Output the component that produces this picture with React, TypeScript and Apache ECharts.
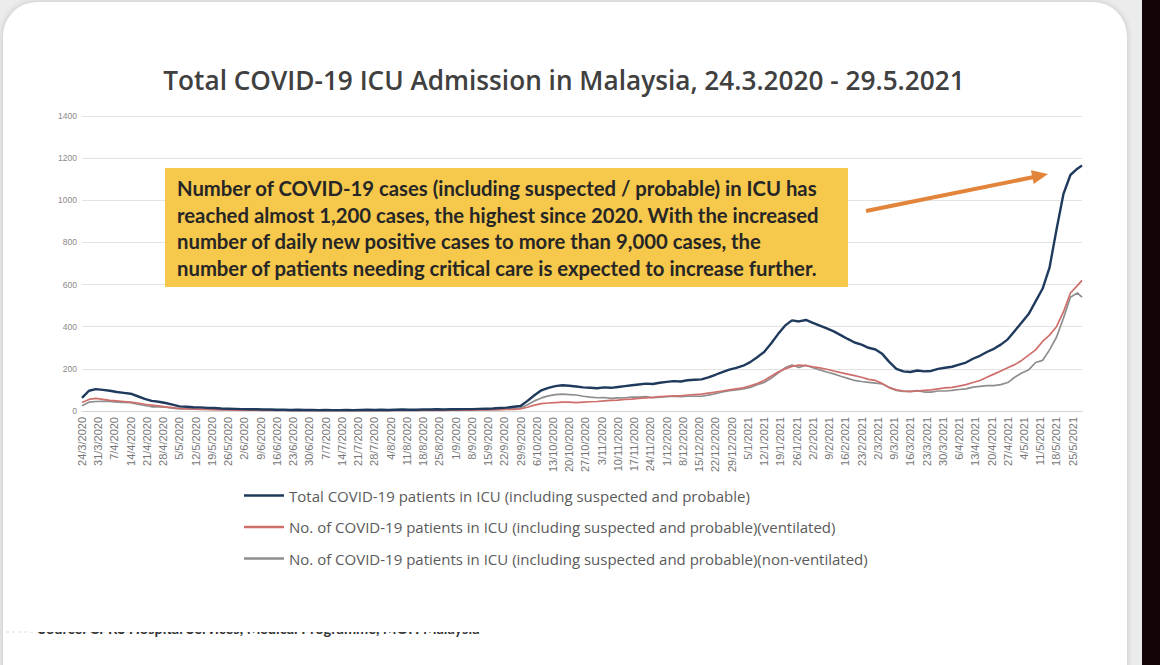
import React, { useEffect, useRef } from "react";
import * as echarts from "echarts";

// Daily categories: 24/3/2020 .. 29/5/2021
const START_YEAR = 2020;
const START_MONTH = 2; // March (0-based)
const START_DAY = 24;
const DAY_COUNT = 432;
const SAMPLE_STEP = 3;

const TITLE = "Total COVID-19 ICU Admission in Malaysia, 24.3.2020 - 29.5.2021";

const SERIES_NAMES = [
  "Total COVID-19 patients in ICU (including suspected and probable)",
  "No. of COVID-19 patients in ICU (including suspected and probable)(ventilated)",
  "No. of COVID-19 patients in ICU (including suspected and probable)(non-ventilated)",
];

const NOTE_LINES = [
  "Number of COVID-19 cases (including suspected / probable) in ICU has",
  "reached almost 1,200 cases, the highest since 2020. With the increased",
  "number of daily new positive cases to more than 9,000 cases, the",
  "number of patients needing critical care is expected to increase further.",
];

const SOURCE_TEXT = "Source: CPRS Hospital Services, Medical Programme, MOH Malaysia";

// Patients in ICU, sampled every third day (last sample on 29/5/2021)
const totalIcu = [
  62, 96, 104, 100, 96, 90, 86, 82, 70, 58, 48, 44, 38, 30, 22, 20, 18, 17, 15, 14, 12, 11, 10, 9,
  8, 8, 7, 7, 6, 6, 5, 6, 5, 5, 4, 5, 4, 4, 5, 4, 5, 6, 5, 6, 5, 6, 7, 6, 6, 7, 7, 8, 7, 8, 8, 9, 9, 10, 11, 12,
  14, 16, 20, 24, 48, 75, 98, 110, 118, 122,
  120, 116, 112, 110, 108, 112, 110, 114, 118, 122, 126, 130, 128, 134, 138, 142, 140, 146, 148, 150,
  160, 172, 185, 196, 205, 215, 232, 255, 280, 320,
  365, 405, 430, 425, 432, 418, 405, 392, 378, 360, 342, 325, 315, 300, 292, 270, 232, 200, 188, 185,
  192, 188, 190, 200, 205, 210, 220, 230, 248, 262,
  280, 295, 315, 340, 380, 420, 460, 520, 580, 680, 860, 1030, 1120, 1150, 1165,
];

const ventilated = [
  40, 55, 60, 55, 50, 48, 45, 42, 38, 32, 28, 24, 20, 16, 12, 10, 9, 8, 7, 6, 5, 5, 4, 4,
  4, 4, 3, 3, 3, 3, 2, 3, 2, 2, 2, 2, 2, 2, 2, 2, 2, 3, 2, 3, 2, 3, 3, 3, 3, 3, 3, 4, 3, 4, 4, 4, 4, 5, 5, 6,
  6, 7, 8, 10, 18, 28, 35, 38, 40, 42,
  42, 40, 42, 44, 45, 48, 50, 52, 55, 56, 60, 62, 65, 68, 70, 72, 72, 76, 78, 80,
  85, 90, 95, 100, 105, 110, 120, 130, 145, 165,
  185, 200, 212, 218, 215, 210, 205, 198, 190, 182, 175, 168, 160, 150, 145, 130, 110, 100, 95, 92,
  95, 98, 100, 105, 110, 112, 118, 125, 135, 145,
  160, 175, 190, 205, 220, 240, 265, 290, 330, 360, 400, 470, 560, 595, 620,
];

const nonVentilated = [
  25, 42, 45, 46, 46, 42, 41, 40, 32, 26, 20, 20, 18, 14, 10, 10, 9, 9, 8, 8, 7, 6, 6, 5,
  4, 4, 4, 4, 3, 3, 3, 3, 3, 3, 2, 3, 2, 2, 3, 2, 3, 3, 3, 3, 3, 3, 4, 3, 3, 4, 4, 4, 4, 4, 4, 5, 5, 5, 6, 6,
  8, 9, 12, 14, 30, 48, 62, 72, 78, 80,
  78, 76, 70, 66, 63, 64, 60, 62, 63, 66, 66, 68, 63, 66, 68, 70, 68, 70, 70, 70,
  75, 82, 90, 96, 100, 105, 112, 125, 135, 155,
  180, 205, 218, 207, 217, 205, 195, 185, 176, 165, 155, 145, 140, 136, 132, 128, 112, 98, 93, 93,
  97, 90, 90, 95, 95, 98, 102, 105, 113, 117,
  120, 120, 125, 135, 160, 180, 195, 230, 240, 290, 350, 440, 540, 560, 540,
];

const Y_MIN = 0;
const Y_MAX = 1400;
const Y_STEP = 200;

const COLORS = ["#1f3a5c", "#cf6f6c", "#8e8e8e"];

function dayLabels(): string[] {
  const out: string[] = [];
  for (let i = 0; i < DAY_COUNT; i++) {
    const d = new Date(START_YEAR, START_MONTH, START_DAY + i);
    out.push(`${d.getDate()}/${d.getMonth() + 1}/${d.getFullYear()}`);
  }
  return out;
}

function toPoints(values: number[]): [number, number][] {
  return values.map((v, i) => [Math.min(i * SAMPLE_STEP, DAY_COUNT - 1), v]);
}

export default function App() {
  const ref = useRef<HTMLDivElement>(null);

  useEffect(() => {
    if (!ref.current) return;
    const chart = echarts.init(ref.current, undefined, { renderer: "svg" });
    const seriesValues = [totalIcu, ventilated, nonVentilated];
    const widths = [2.4, 1.7, 1.7];
    const zs = [5, 4, 3];

    chart.setOption({
      animation: false,
      title: {
        text: TITLE,
        left: 559,
        top: 62,
        textAlign: "center",
        textStyle: {
          fontFamily: "Open Sans",
          fontWeight: 600,
          fontSize: 26.2,
          color: "#404040",
        },
      },
      grid: { left: 82, right: 78, top: 116, bottom: 254, containLabel: false },
      legend: {
        orient: "vertical",
        left: 244,
        top: 488,
        padding: 0,
        icon: "rect",
        itemWidth: 40,
        itemHeight: 2.5,
        itemGap: 16.5,
        data: SERIES_NAMES,
        textStyle: { fontFamily: "Open Sans", fontSize: 15, color: "#5a5a5a" },
      },
      xAxis: {
        type: "category",
        data: dayLabels(),
        boundaryGap: false,
        axisTick: { show: false },
        axisLine: { lineStyle: { color: "#d4d4d4", width: 1 } },
        axisLabel: {
          interval: 6,
          rotate: 90,
          fontSize: 11,
          color: "#757575",
          margin: 6,
          fontFamily: "Liberation Sans",
        },
      },
      yAxis: {
        type: "value",
        min: Y_MIN,
        max: Y_MAX,
        interval: Y_STEP,
        axisLine: { show: false },
        axisTick: { show: false },
        axisLabel: {
          fontSize: 8.5,
          color: "#8a8a8a",
          margin: 5,
          fontFamily: "Liberation Sans",
          formatter: (v: number) => String(v),
        },
        splitLine: { lineStyle: { color: "#e3e3e3", width: 1 } },
      },
      series: SERIES_NAMES.map((name, i) => ({
        name,
        type: "line",
        data: toPoints(seriesValues[i]),
        symbol: "none",
        z: zs[i],
        itemStyle: { color: COLORS[i] },
        lineStyle: { color: COLORS[i], width: widths[i] },
      })),
      graphic: [
        {
          type: "rect",
          shape: { x: 165, y: 168, width: 683, height: 119 },
          style: { fill: "#f6c84c" },
          z: 10,
        },
        ...NOTE_LINES.map((line, i) => ({
          type: "text",
          x: 177,
          y: 188 + i * 26.5,
          z: 11,
          style: {
            text: line,
            fill: "#262626",
            font: "bold 20.3px Lato",
            textVerticalAlign: "middle",
          },
        })),
        {
          type: "line",
          shape: { x1: 866, y1: 211, x2: 1034, y2: 177 },
          style: { stroke: "#e3843b", lineWidth: 4 },
          z: 10,
        },
        {
          type: "polygon",
          shape: { points: [[1048, 174], [1030.9, 170.3], [1033.7, 184.1]] },
          style: { fill: "#e3843b" },
          z: 10,
        },
        {
          type: "line",
          shape: { x1: 0, y1: 632, x2: 420, y2: 632 },
          style: { stroke: "#dcdcdc", lineWidth: 1, lineDash: [3, 3] },
          z: 10,
        },
        {
          type: "text",
          x: 38,
          y: 621,
          z: 10,
          style: { text: SOURCE_TEXT, fill: "#333", font: "bold 14.5px Lato" },
        },
        {
          type: "rect",
          shape: { x: 30, y: 610, width: 470, height: 22 },
          style: { fill: "#ffffff" },
          z: 12,
        },
      ],
    });
    return () => chart.dispose();
  }, []);

  return (
    <div
      style={{
        position: "fixed",
        left: 0,
        top: 0,
        width: 1160,
        height: 665,
        background: "#ececec",
        overflow: "hidden",
      }}
    >
      <div
        style={{
          position: "absolute",
          left: 3,
          top: 2,
          width: 1124,
          height: 720,
          background: "#ffffff",
          borderRadius: 34,
          boxShadow: "0 0 6px rgba(0,0,0,0.18)",
        }}
      />
      <div
        style={{
          position: "absolute",
          left: 1142,
          top: 0,
          width: 18,
          height: 665,
          background: "#140406",
        }}
      />
      <div ref={ref} style={{ position: "absolute", left: 0, top: 0, width: 1160, height: 665 }} />
    </div>
  );
}
